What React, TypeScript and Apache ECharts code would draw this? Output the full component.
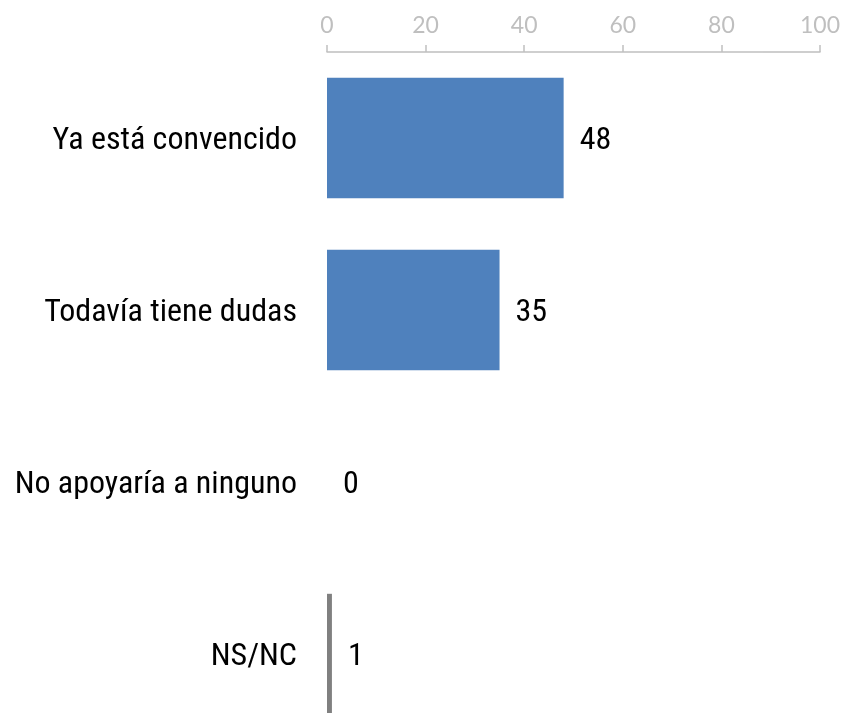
import React, { useEffect, useRef } from "react";
import * as echarts from "echarts";

const categories = ["Ya está convencido", "Todavía tiene dudas", "No apoyaría a ninguno", "NS/NC"];
const values = [48, 35, 0, 1];
const barColors = ["#4F81BD", "#4F81BD", "#4F81BD", "#808080"];

const FONT = "'Roboto Condensed', 'Liberation Sans Narrow', 'Arial Narrow', Roboto, sans-serif";

export default function App() {
  const ref = useRef<HTMLDivElement>(null);
  useEffect(() => {
    if (!ref.current) return;
    const chart = echarts.init(ref.current, undefined, { renderer: "svg" });
    chart.setOption({
      animation: false,
      grid: { left: 327, top: 52, width: 495, height: 688 },
      xAxis: {
        type: "value",
        position: "top",
        min: 0,
        max: 100,
        interval: 20,
        splitLine: { show: false },
        axisLine: { show: true, lineStyle: { color: "#BFBFBF", width: 1.5 } },
        axisTick: { show: true, length: 7, lineStyle: { color: "#BFBFBF", width: 1.5 } },
        axisLabel: { color: "#BFBFBF", fontFamily: "Lato, sans-serif", fontSize: 23, margin: 17 },
      },
      yAxis: {
        type: "category",
        inverse: true,
        data: categories,
        axisLine: { show: false },
        axisTick: { show: false },
        axisLabel: { color: "#000", fontFamily: FONT, fontSize: 32, margin: 30 },
      },
      series: [
        {
          type: "bar",
          barCategoryGap: "30%",
          data: values.map((v, i) => ({ value: v, itemStyle: { color: barColors[i] } })),
          label: {
            show: true,
            position: "right",
            distance: 16,
            color: "#000",
            fontFamily: FONT,
            fontSize: 32,
          },
        },
      ],
    });
    return () => chart.dispose();
  }, []);
  return (
    <div style={{ position: "fixed", left: 0, top: 0, width: 843, height: 713, overflow: "hidden" }}>
      <div ref={ref} style={{ width: 843, height: 760 }} />
    </div>
  );
}
